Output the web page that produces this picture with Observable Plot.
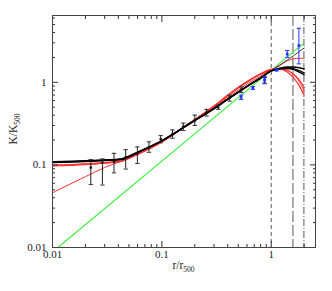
<!DOCTYPE html>
<html><head><meta charset="utf-8">
<script src="https://cdn.jsdelivr.net/npm/d3@7"></script>
<script src="https://cdn.jsdelivr.net/npm/@observablehq/plot@0.6"></script>
<style>body{margin:0;background:#fff}svg{display:block}</style>
</head><body><div id="chart"></div>
<script>
// ---- axis ticks ----
const xMajor = [0.01, 0.1, 1];
const xMinor = [0.02,0.03,0.04,0.05,0.06,0.07,0.08,0.09,0.2,0.3,0.4,0.5,0.6,0.7,0.8,0.9,2];
const yMajor = [0.01, 0.1, 1];
const yMinor = [0.02,0.03,0.04,0.05,0.06,0.07,0.08,0.09,0.2,0.3,0.4,0.5,0.6,0.7,0.8,0.9,2,3,4,5,6];
const tickLabels = ["0.01", "0.1", "1"];

// ---- radii of reference lines (r500, r200, r100) ----
const vlineR = [1, 1.58, 1.99];

// ---- model curves sampled at rGrid ----
const rGrid   = [0.01, 0.02, 0.03, 0.042, 0.06, 0.1, 0.15, 0.2, 0.3, 0.4, 0.5, 0.6, 0.8, 1.0, 1.2, 1.4, 1.6, 1.8, 2.0];
const blackA  = [0.108,0.111,0.114,0.117,0.142,0.196,0.272,0.345,0.48,0.625,0.76,0.89,1.13,1.37,1.48,1.53,1.53,1.5,1.45];
const blackB  = [0.107,0.110,0.113,0.116,0.141,0.195,0.270,0.343,0.478,0.62,0.755,0.885,1.125,1.37,1.47,1.5,1.46,1.38,1.3];
const blackC  = [0.109,0.112,0.115,0.118,0.143,0.197,0.273,0.347,0.482,0.627,0.765,0.895,1.135,1.37,1.46,1.47,1.42,1.33,1.24];
const blackThin = [0.108,0.111,0.114,0.117,0.142,0.196,0.272,0.345,0.48,0.625,0.76,0.89,1.13,1.37,1.6,1.86,2.1,2.35,2.6];
const redA    = [0.099,0.103,0.107,0.112,0.137,0.192,0.275,0.355,0.505,0.69,0.85,1.0,1.25,1.41,1.62,1.82,1.92,1.95,1.95];
const redB    = [0.097,0.101,0.105,0.110,0.135,0.190,0.272,0.352,0.51,0.69,0.86,1.01,1.26,1.42,1.46,1.4,1.25,1.07,0.87];
const redC    = [0.098,0.102,0.106,0.111,0.136,0.191,0.273,0.354,0.52,0.70,0.87,1.02,1.27,1.43,1.44,1.33,1.13,0.91,0.69];
const redD    = [0.046,0.072,0.093,0.110,0.133,0.188,0.268,0.348,0.50,0.66,0.81,0.95,1.19,1.39,1.45,1.4,1.24,1.02,0.78];

// ---- baseline (green) endpoints ----
const greenR = [0.0112, 2.0];
const greenK = [0.01, 3.0];

// ---- black data points ----
const ptR  = [0.0224,0.0286,0.0365,0.0467,0.0597,0.0762,0.0975,0.125,0.157,0.2,0.256,0.328,0.416,0.532,0.87];
const ptK  = [0.093,0.106,0.110,0.123,0.138,0.163,0.205,0.235,0.29,0.344,0.426,0.498,0.647,0.81,1.05];
const ptLo = [0.058,0.057,0.080,0.089,0.104,0.142,0.185,0.21,0.26,0.30,0.39,0.47,0.59,0.75,0.96];
const ptHi = [0.116,0.118,0.138,0.153,0.165,0.19,0.226,0.265,0.32,0.40,0.47,0.53,0.70,0.88,1.14];

// ---- blue data points ----
const bR  = [0.53, 0.68, 0.87, 1.12, 1.4, 1.79];
const bK  = [0.66, 0.855, 1.08, 1.41, 2.2, 2.78];
const bLo = [0.62, 0.82, 0.98, 1.37, 2.0, 1.67];
const bHi = [0.70, 0.89, 1.17, 1.45, 2.42, 4.5];

const curve = arr => rGrid.map((r, i) => ({r, K: arr[i]}));
const pts = ptR.map((r, i) => ({r, K: ptK[i], lo: ptLo[i], hi: ptHi[i]}));
const blue = bR.map((r, i) => ({r, K: bK[i], lo: bLo[i], hi: bHi[i]}));
const green = greenR.map((r, i) => ({r, K: greenK[i]}));
const fmt = d => tickLabels[xMajor.indexOf(d)];
const cap = {draw(c) { c.moveTo(-2.2, 0); c.lineTo(2.2, 0); }};

const W = 332, H = 291, ML = 52, MR = 17, MT = 15, MB = 44;
const axC = "#333";
const noTxt = () => "";
const FONT = "'Liberation Serif', 'DejaVu Serif', serif";

const plot = Plot.plot({
  width: W, height: H,
  marginLeft: ML, marginRight: MR, marginTop: MT, marginBottom: MB,
  style: {fontFamily: FONT, fontSize: "11px", background: "#fff", color: "#222"},
  x: {type: "log", domain: [0.01, 2.54]},
  y: {type: "log", domain: [0.01, 6.43]},
  marks: [
    Plot.ruleX([vlineR[0]], {stroke: "#444", strokeWidth: 0.9, strokeDasharray: "4,3"}),
    Plot.ruleX([vlineR[1]], {stroke: "#444", strokeWidth: 0.9, strokeDasharray: "11,3"}),
    Plot.ruleX([vlineR[2]], {stroke: "#444", strokeWidth: 0.9, strokeDasharray: "7,2,1,2"}),
    Plot.line(green, {x: "r", y: "K", stroke: "#3cf03c", strokeWidth: 1.1}),
    Plot.line(curve(redD), {x: "r", y: "K", stroke: "#ff3030", strokeWidth: 1, curve: "monotone-x"}),
    Plot.line(curve(redA), {x: "r", y: "K", stroke: "#ff3030", strokeWidth: 1, curve: "monotone-x"}),
    Plot.line(curve(redB), {x: "r", y: "K", stroke: "#ff3030", strokeWidth: 1.2, curve: "monotone-x"}),
    Plot.line(curve(redC), {x: "r", y: "K", stroke: "#ff3030", strokeWidth: 1.2, curve: "monotone-x"}),
    Plot.line(curve(blackThin), {x: "r", y: "K", stroke: "#111", strokeWidth: 0.8, curve: "monotone-x"}),
    Plot.line(curve(blackA), {x: "r", y: "K", stroke: "#000", strokeWidth: 1.4, curve: "monotone-x"}),
    Plot.line(curve(blackB), {x: "r", y: "K", stroke: "#000", strokeWidth: 1.4, curve: "monotone-x"}),
    Plot.line(curve(blackC), {x: "r", y: "K", stroke: "#000", strokeWidth: 1.4, curve: "monotone-x"}),
    // black points with error bars
    Plot.ruleX(pts, {x: "r", y1: "lo", y2: "hi", stroke: "#222", strokeWidth: 1}),
    Plot.dot(pts, {x: "r", y: "lo", symbol: cap, stroke: "#333", strokeWidth: 1, r: 2}),
    Plot.dot(pts, {x: "r", y: "hi", symbol: cap, stroke: "#333", strokeWidth: 1, r: 2}),
    Plot.dot(pts, {x: "r", y: "K", symbol: "square", fill: "#111", r: 1.3}),
    // blue points with error bars
    Plot.ruleX(blue, {x: "r", y1: "lo", y2: "hi", stroke: "#2233ff", strokeWidth: 1}),
    Plot.dot(blue, {x: "r", y: "lo", symbol: cap, stroke: "#2233ff", strokeWidth: 1, r: 2}),
    Plot.dot(blue, {x: "r", y: "hi", symbol: cap, stroke: "#2233ff", strokeWidth: 1, r: 2}),
    Plot.dot(blue, {x: "r", y: "K", symbol: "square", fill: "#2233ff", r: 1.5}),
    // inward ticks on all four sides
    Plot.axisX({ticks: xMajor, anchor: "bottom", tickSize: -6, tickFormat: noTxt, label: null, stroke: axC}),
    Plot.axisX({ticks: xMinor, anchor: "bottom", tickSize: -3, tickFormat: noTxt, label: null, stroke: axC}),
    Plot.axisX({ticks: xMajor, anchor: "top", tickSize: -6, tickFormat: noTxt, label: null, stroke: axC}),
    Plot.axisX({ticks: xMinor, anchor: "top", tickSize: -3, tickFormat: noTxt, label: null, stroke: axC}),
    Plot.axisY({ticks: yMajor, anchor: "left", tickSize: -6, tickFormat: noTxt, label: null, stroke: axC}),
    Plot.axisY({ticks: yMinor, anchor: "left", tickSize: -3, tickFormat: noTxt, label: null, stroke: axC}),
    Plot.axisY({ticks: yMajor, anchor: "right", tickSize: -6, tickFormat: noTxt, label: null, stroke: axC}),
    Plot.axisY({ticks: yMinor, anchor: "right", tickSize: -3, tickFormat: noTxt, label: null, stroke: axC}),
    // tick labels
    Plot.axisX({ticks: xMajor, anchor: "bottom", tickSize: 0, tickPadding: 3, tickFormat: fmt, label: null}),
    Plot.axisY({ticks: yMajor, anchor: "left", tickSize: 0, tickPadding: 6, tickFormat: fmt, label: null}),
    Plot.frame({stroke: "#444", strokeWidth: 1})
  ]
});
document.getElementById("chart").appendChild(plot);

// axis titles with subscripts
const svg = d3.select(plot);
const g = svg.append("g")
  .attr("font-family", FONT)
  .attr("font-size", 11.5).attr("fill", "#222");
const xl = g.append("text").attr("x", ML + (W - ML - MR) / 2).attr("y", 269).attr("text-anchor", "middle");
xl.append("tspan").text("r/r");
xl.append("tspan").attr("font-size", 7.5).attr("dy", 2.5).text("500");
const yl = g.append("text").attr("transform", `translate(17,${MT + (H - MT - MB) / 2 - 2}) rotate(-90)`).attr("text-anchor", "middle");
yl.append("tspan").text("K/K");
yl.append("tspan").attr("font-size", 7.5).attr("dy", 2.5).text("500");
</script>
</body></html>
